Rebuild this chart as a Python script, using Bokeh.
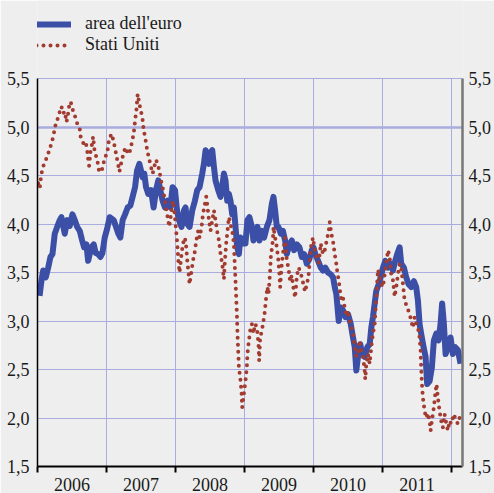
from bokeh.plotting import figure
from bokeh.models import (Range1d, FixedTicker, LinearAxis, Grid, Legend, LegendItem)
from bokeh.embed import file_html
from bokeh.resources import INLINE

# ---- data (decimal years, % yields) ----
euro_t = [2006.03, 2006.058, 2006.082, 2006.120, 2006.155, 2006.188, 2006.217, 2006.250, 2006.285,
          2006.323, 2006.347, 2006.372, 2006.395, 2006.430, 2006.467, 2006.507, 2006.540, 2006.575,
          2006.612, 2006.647, 2006.676, 2006.709, 2006.734, 2006.757, 2006.781, 2006.815, 2006.844,
          2006.878, 2006.912, 2006.941, 2006.974, 2007.009, 2007.046, 2007.104, 2007.139, 2007.172,
          2007.201, 2007.234, 2007.269, 2007.307, 2007.346, 2007.379, 2007.414, 2007.443, 2007.476,
          2007.501, 2007.524, 2007.548, 2007.573, 2007.606, 2007.645, 2007.683, 2007.718, 2007.751,
          2007.780, 2007.813, 2007.848, 2007.886, 2007.925, 2007.958, 2007.993, 2008.022, 2008.051,
          2008.088, 2008.123, 2008.146, 2008.171, 2008.204, 2008.243, 2008.282, 2008.315, 2008.349,
          2008.388, 2008.412, 2008.436, 2008.460, 2008.485, 2008.508, 2008.533, 2008.557, 2008.580,
          2008.619, 2008.653, 2008.677, 2008.702, 2008.725, 2008.750, 2008.774, 2008.797, 2008.822,
          2008.846, 2008.870, 2008.894, 2008.919, 2008.942, 2008.977, 2009.014, 2009.043, 2009.072,
          2009.107, 2009.130, 2009.155, 2009.188, 2009.217, 2009.252, 2009.285, 2009.324, 2009.362,
          2009.397, 2009.420, 2009.444, 2009.469, 2009.492, 2009.527, 2009.556, 2009.589, 2009.614,
          2009.651, 2009.686, 2009.719, 2009.758, 2009.796, 2009.831, 2009.864, 2009.903, 2009.941,
          2009.975, 2009.999, 2010.027, 2010.067, 2010.106, 2010.139, 2010.172, 2010.211, 2010.250,
          2010.284, 2010.308, 2010.331, 2010.366, 2010.395, 2010.428, 2010.462, 2010.501, 2010.540,
          2010.573, 2010.598, 2010.621, 2010.645, 2010.679, 2010.703, 2010.742, 2010.780, 2010.815,
          2010.838, 2010.862, 2010.887, 2010.910, 2010.945, 2010.974, 2011.007, 2011.041, 2011.080,
          2011.119, 2011.152, 2011.185, 2011.214, 2011.249, 2011.272, 2011.311, 2011.344, 2011.379,
          2011.417, 2011.456, 2011.489, 2011.514, 2011.538, 2011.561, 2011.596, 2011.625, 2011.648,
          2011.683, 2011.716, 2011.745, 2011.779, 2011.813, 2011.842, 2011.865, 2011.890, 2011.915,
          2011.948, 2011.987, 2012.020, 2012.054, 2012.093, 2012.132]
euro_v = [3.26, 3.42, 3.52, 3.45, 3.55, 3.66, 3.69, 3.90, 3.97,
          4.04, 4.07, 3.98, 3.90, 4.04, 3.98, 4.10, 4.04, 3.97,
          3.93, 3.83, 3.76, 3.79, 3.62, 3.69, 3.76, 3.79, 3.70,
          3.69, 3.66, 3.70, 3.86, 3.95, 4.07, 4.04, 3.97, 3.90,
          3.86, 4.04, 4.10, 4.17, 4.19, 4.28, 4.38, 4.55, 4.62,
          4.55, 4.48, 4.52, 4.38, 4.31, 4.35, 4.17, 4.35, 4.45,
          4.35, 4.24, 4.17, 4.24, 4.17, 4.38, 4.35, 4.14, 4.04,
          3.97, 4.14, 4.17, 4.00, 3.97, 4.14, 4.24, 4.35, 4.38,
          4.52, 4.62, 4.76, 4.69, 4.62, 4.74, 4.76, 4.59, 4.45,
          4.35, 4.28, 4.38, 4.52, 4.45, 4.24, 4.31, 4.24, 4.10,
          4.17, 3.97, 3.76, 3.69, 3.86, 3.80, 3.80, 4.04, 4.07,
          3.97, 3.83, 3.90, 3.97, 3.83, 3.93, 3.86, 3.97, 4.04,
          4.21, 4.28, 4.14, 3.97, 3.97, 3.90, 3.93, 3.83, 3.69,
          3.79, 3.83, 3.73, 3.79, 3.76, 3.66, 3.69, 3.59, 3.64,
          3.73, 3.76, 3.69, 3.62, 3.55, 3.52, 3.55, 3.50, 3.48,
          3.45, 3.35, 3.28, 3.00, 3.14, 3.11, 3.04, 3.07, 2.97,
          2.83, 2.73, 2.49, 2.63, 2.76, 2.66, 2.63, 2.73, 2.76,
          2.93, 3.04, 3.18, 3.31, 3.38, 3.45, 3.55, 3.62, 3.55,
          3.59, 3.52, 3.62, 3.69, 3.76, 3.59, 3.55, 3.45, 3.38,
          3.35, 3.41, 3.35, 3.21, 2.97, 2.87, 2.73, 2.63, 2.35,
          2.38, 2.52, 2.80, 2.87, 2.80, 2.97, 3.18, 2.97, 2.66,
          2.73, 2.83, 2.66, 2.73, 2.70, 2.56]

us_t = [2006.010, 2006.033, 2006.051, 2006.072, 2006.106, 2006.140, 2006.178, 2006.203, 2006.227,
        2006.250, 2006.275, 2006.300, 2006.323, 2006.347, 2006.372, 2006.395, 2006.420, 2006.444,
        2006.467, 2006.492, 2006.517, 2006.554, 2006.589, 2006.612, 2006.622, 2006.647, 2006.670,
        2006.699, 2006.719, 2006.734, 2006.748, 2006.767, 2006.792, 2006.806, 2006.829, 2006.864,
        2006.893, 2006.926, 2006.951, 2006.974, 2007.009, 2007.038, 2007.075, 2007.104, 2007.129,
        2007.153, 2007.172, 2007.187, 2007.211, 2007.234, 2007.259, 2007.284, 2007.307, 2007.346,
        2007.370, 2007.394, 2007.404, 2007.418, 2007.433, 2007.443, 2007.452, 2007.476, 2007.501,
        2007.524, 2007.538, 2007.559, 2007.578, 2007.596, 2007.621, 2007.645, 2007.669, 2007.693,
        2007.718, 2007.741, 2007.766, 2007.790, 2007.813, 2007.838, 2007.862, 2007.886, 2007.910,
        2007.935, 2007.958, 2007.983, 2008.007, 2008.026, 2008.041, 2008.059, 2008.088, 2008.109,
        2008.137, 2008.156, 2008.171, 2008.195, 2008.204, 2008.233, 2008.253, 2008.282, 2008.301,
        2008.330, 2008.349, 2008.378, 2008.398, 2008.427, 2008.446, 2008.465, 2008.485, 2008.508,
        2008.533, 2008.557, 2008.580, 2008.605, 2008.630, 2008.653, 2008.677, 2008.702, 2008.716,
        2008.735, 2008.754, 2008.774, 2008.797, 2008.822, 2008.846, 2008.861, 2008.870, 2008.880,
        2008.890, 2008.899, 2008.909, 2008.919, 2008.938, 2008.956, 2008.967, 2008.991, 2009.014,
        2009.034, 2009.043, 2009.058, 2009.082, 2009.107, 2009.130, 2009.155, 2009.180, 2009.203,
        2009.213, 2009.227, 2009.252, 2009.275, 2009.290, 2009.314, 2009.333, 2009.348, 2009.362,
        2009.372, 2009.382, 2009.397, 2009.411, 2009.420, 2009.444, 2009.469, 2009.492, 2009.507,
        2009.517, 2009.541, 2009.564, 2009.589, 2009.614, 2009.637, 2009.661, 2009.686, 2009.709,
        2009.734, 2009.758, 2009.781, 2009.806, 2009.831, 2009.854, 2009.878, 2009.903, 2009.926,
        2009.946, 2009.970, 2009.994, 2010.019, 2010.042, 2010.077, 2010.106, 2010.124, 2010.153,
        2010.172, 2010.201, 2010.221, 2010.236, 2010.259, 2010.284, 2010.308, 2010.331, 2010.346,
        2010.366, 2010.385, 2010.404, 2010.428, 2010.453, 2010.476, 2010.501, 2010.525, 2010.548,
        2010.573, 2010.598, 2010.621, 2010.645, 2010.670, 2010.693, 2010.718, 2010.742, 2010.751,
        2010.766, 2010.790, 2010.815, 2010.838, 2010.862, 2010.887, 2010.901, 2010.916, 2010.925,
        2010.935, 2010.960, 2010.983, 2011.007, 2011.032, 2011.055, 2011.080, 2011.104, 2011.127,
        2011.152, 2011.177, 2011.200, 2011.224, 2011.249, 2011.272, 2011.297, 2011.321, 2011.359,
        2011.394, 2011.417, 2011.441, 2011.466, 2011.489, 2011.514, 2011.538, 2011.553, 2011.561,
        2011.572, 2011.586, 2011.611, 2011.634, 2011.659, 2011.683, 2011.698, 2011.716, 2011.745,
        2011.764, 2011.784, 2011.803, 2011.828, 2011.851, 2011.875, 2011.900, 2011.923, 2011.948,
        2011.972, 2011.996, 2012.035, 2012.068, 2012.093, 2012.132]
us_v = [4.42, 4.37, 4.49, 4.57, 4.64, 4.69, 4.78, 4.83, 4.90,
        4.98, 5.07, 5.09, 5.16, 5.21, 5.14, 5.16, 5.05, 5.14,
        5.26, 5.24, 5.16, 5.09, 5.00, 4.98, 4.91, 4.85, 4.83,
        4.85, 4.76, 4.67, 4.60, 4.74, 4.83, 4.90, 4.74, 4.67,
        4.54, 4.54, 4.60, 4.69, 4.72, 4.88, 4.93, 4.85, 4.76,
        4.67, 4.60, 4.54, 4.62, 4.69, 4.76, 4.79, 4.72, 4.76,
        4.85, 4.93, 5.00, 5.09, 5.17, 5.26, 5.34, 5.24, 5.16,
        5.07, 4.97, 4.90, 4.81, 4.74, 4.66, 4.59, 4.52, 4.59,
        4.66, 4.62, 4.55, 4.45, 4.38, 4.28, 4.17, 4.07, 3.97,
        4.10, 4.24, 4.14, 3.95, 3.80, 3.62, 3.50, 3.69, 3.80,
        3.86, 3.76, 3.62, 3.45, 3.38, 3.52, 3.62, 3.72, 3.83,
        3.93, 3.86, 3.97, 4.10, 4.21, 4.28, 4.17, 4.04, 3.93,
        4.04, 4.14, 4.04, 3.92, 3.83, 3.69, 3.59, 3.43, 3.62,
        3.80, 3.93, 4.07, 4.00, 3.93, 3.80, 3.55, 3.41, 3.24,
        3.07, 2.86, 2.69, 2.52, 2.42, 2.28, 2.11, 2.25, 2.38,
        2.52, 2.66, 2.76, 2.90, 2.97, 2.87, 2.97, 2.93, 2.76,
        2.59, 2.83, 2.90, 3.00, 3.07, 3.24, 3.35, 3.28, 3.41,
        3.52, 3.66, 3.75, 3.83, 3.97, 3.86, 3.76, 3.62, 3.48,
        3.35, 3.59, 3.73, 3.86, 3.62, 3.55, 3.41, 3.47, 3.34,
        3.24, 3.45, 3.55, 3.52, 3.45, 3.38, 3.30, 3.38, 3.45,
        3.62, 3.80, 3.86, 3.72, 3.66, 3.60, 3.80, 3.72, 3.69,
        3.76, 3.86, 3.93, 4.02, 3.90, 3.82, 3.69, 3.59, 3.50,
        3.42, 3.31, 3.21, 3.24, 3.14, 3.05, 3.11, 3.00, 2.95,
        2.87, 2.73, 2.63, 2.68, 2.80, 2.69, 2.63, 2.49, 2.40,
        2.56, 2.66, 2.56, 2.73, 2.87, 2.97, 3.14, 3.28, 3.42,
        3.53, 3.45, 3.38, 3.35, 3.48, 3.59, 3.73, 3.66, 3.48,
        3.42, 3.25, 3.35, 3.48, 3.59, 3.55, 3.38, 3.21, 3.14,
        3.07, 3.00, 2.93, 3.04, 2.97, 2.93, 2.83, 2.69, 2.52,
        2.35, 2.21, 2.07, 2.00, 2.05, 1.97, 1.87, 1.97, 2.11,
        2.24, 2.35, 2.21, 2.07, 1.97, 1.90, 2.04, 1.95, 1.87,
        1.97, 1.94, 2.04, 1.97, 1.94, 2.04]

series_labels = ["area dell'euro", "Stati Uniti"]
year_bounds = [2006, 2007, 2008, 2009, 2010, 2011, 2012]
year_labels = ["2006", "2007", "2008", "2009", "2010", "2011"]
y_ticks = [1.5, 2.0, 2.5, 3.0, 3.5, 4.0, 4.5, 5.0, 5.5]
y_tick_labels = ["1,5", "2,0", "2,5", "3,0", "3,5", "4,0", "4,5", "5,0", "5,5"]
y_lo, y_hi = 1.5, 5.5

BG = "#eeeeee"
GRID = "#a9acde"
BLUE = "#3a4fa5"
RED = "#a23b30"
FONT = "Liberation Serif"
TXT = "#1a1a1a"

H, W = 493, 494
BOTTOM, TOP_GAP = 27, 78
frame_h = H - BOTTOM
top_val = y_lo + (y_hi - y_lo) * frame_h / (frame_h - TOP_GAP)

p = figure(width=W, height=H, output_backend="svg", toolbar_location=None,
           x_range=Range1d(2006.0, 2012.16), y_range=Range1d(y_lo, top_val),
           min_border_left=37, min_border_right=32, min_border_top=0, min_border_bottom=BOTTOM,
           background_fill_color=BG, border_fill_color=BG)
p.outline_line_color = None

r_euro = p.line(euro_t, euro_v, line_color=BLUE, line_width=6, line_join="round")
r_us = p.line(us_t, us_v, line_color=RED, line_width=4, line_dash="0 7", line_cap="round")

# x axis: labels centred on years, ticks at year boundaries
mid_years = [y + 0.5 for y in year_bounds[:-1]]
xt = FixedTicker(ticks=mid_years, minor_ticks=year_bounds)
p.xaxis.ticker = xt
p.xaxis.major_label_overrides = {m: lab for m, lab in zip(mid_years, year_labels)}
p.xaxis.major_tick_out = 0
p.xaxis.major_tick_in = 0
p.xaxis.minor_tick_out = 6
p.xaxis.minor_tick_in = 0
p.xaxis.minor_tick_line_width = 2
p.xaxis.minor_tick_line_color = "black"
p.xaxis.axis_line_width = 2
p.xaxis.axis_line_color = "black"
p.xaxis.major_label_standoff = 5
p.xaxis.major_label_text_font = FONT
p.xaxis.major_label_text_font_size = "18px"
p.xaxis.major_label_text_color = TXT

yt = FixedTicker(ticks=y_ticks)
ylab = {t: s for t, s in zip(y_ticks, y_tick_labels)}
p.yaxis.ticker = yt
p.yaxis.bounds = (y_lo, y_hi)
p.yaxis.major_label_overrides = ylab
p.yaxis.major_tick_out = 0
p.yaxis.major_tick_in = 0
p.yaxis.minor_tick_out = 0
p.yaxis.minor_tick_in = 0
p.yaxis.axis_line_width = 1.5
p.yaxis.axis_line_color = "black"
p.yaxis.major_label_standoff = 8
p.yaxis.major_label_text_font = FONT
p.yaxis.major_label_text_font_size = "18px"
p.yaxis.major_label_text_color = TXT

ry = LinearAxis(ticker=FixedTicker(ticks=y_ticks), major_label_overrides=ylab, bounds=(y_lo, y_hi),
                major_tick_out=0, major_tick_in=0, minor_tick_out=0, minor_tick_in=0,
                axis_line_color="#777777", axis_line_width=2.5, major_label_standoff=6,
                major_label_text_font=FONT, major_label_text_font_size="18px",
                major_label_text_color=TXT)
p.add_layout(ry, "right")

p.xgrid.ticker = FixedTicker(ticks=year_bounds[1:])
p.xgrid.grid_line_color = GRID
p.xgrid.grid_line_width = 1
if "cross_bounds" in Grid.properties():
    p.xgrid.cross_bounds = (y_lo, y_hi)
p.ygrid.ticker = FixedTicker(ticks=y_ticks[1:])
p.ygrid.grid_line_color = GRID
p.ygrid.grid_line_width = 1
p.add_layout(Grid(dimension=1, ticker=FixedTicker(ticks=[5.0]), grid_line_color=GRID,
                  grid_line_width=2.5))

legend = Legend(items=[LegendItem(label=series_labels[0], renderers=[r_euro]),
                       LegendItem(label=series_labels[1], renderers=[r_us])],
                location=(-1, frame_h - 55), padding=0, margin=0, border_line_color=None,
                background_fill_alpha=0, glyph_width=35, glyph_height=20, label_height=20,
                spacing=-2, label_standoff=14, label_text_font=FONT,
                label_text_font_size="18px", label_text_color=TXT)
p.add_layout(legend)

open("out.html", "w").write(file_html(p, INLINE))
